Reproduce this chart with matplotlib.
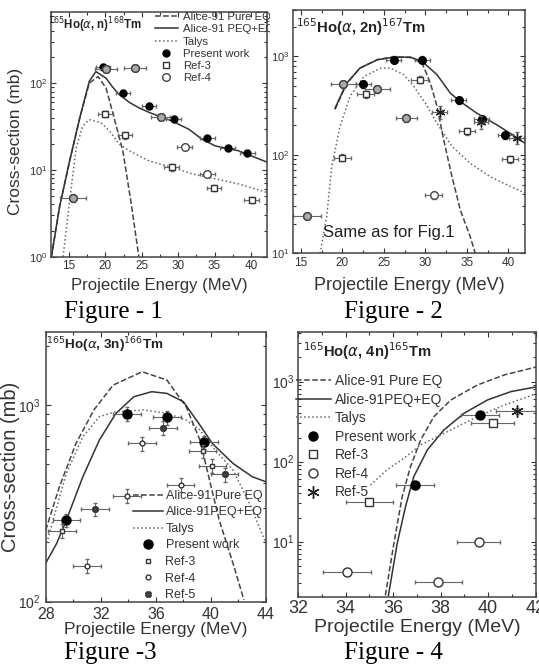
import matplotlib.pyplot as plt
from matplotlib.ticker import MultipleLocator, LogLocator, NullFormatter
from matplotlib.transforms import Bbox

plt.rcParams['font.family'] = ['Liberation Sans', 'DejaVu Sans']
plt.rcParams['mathtext.fontset'] = 'dejavusans'

# ---- Figure 1 : 165Ho(a,n)168Tm ----
f1_eq_e = [12.6, 13.7, 15.1, 16.5, 17.8, 19.0, 20.1, 21.2, 22.4, 23.5, 24.6]
f1_eq_s = [1.0, 3.7, 12.7, 40, 100, 119, 88, 40, 16.6, 4.4, 1.0]
f1_peq_e = [12.6, 13.7, 15.1, 16.5, 17.8, 18.7, 20.1, 21.0, 21.9, 23.3, 24.6, 26.0,
            29.2, 31.5, 33.3, 35.1, 38.3, 42.2]
f1_peq_s = [1.0, 3.7, 12.7, 40, 105, 136, 114, 90, 74, 60, 52, 46,
            36.5, 29.3, 22.5, 18.9, 16.6, 12.3]
f1_talys_e = [14.2, 15.1, 16.0, 16.9, 17.8, 19.4, 20.6, 21.9, 23.3, 26.0, 29.2, 31.9,
              35.1, 38.3, 42.2]
f1_talys_s = [1.0, 4.4, 18, 32, 38, 35, 28, 19.8, 16.6, 12.7, 10.7, 9.0, 7.9, 6.9, 5.5]
f1_pw_e = [19.7, 22.4, 26.0, 29.4, 34.0, 36.8, 39.5]
f1_pw_s = [155, 77, 54, 39, 23.5, 17.8, 15.6]
f1_r3_e = [20.0, 22.7, 29.1, 34.9, 40.1]
f1_r3_s = [44, 25, 10.7, 6.2, 4.5]
f1_r4_e = [15.55, 20.1, 24.1, 27.6, 30.9, 34.0]
f1_r4_s = [4.7, 146, 151, 40.5, 18.4, 9.0]
f1_r4_xerr = [1.8, 1.5, 1.5, 1.3, 1.0, 1.0]
f1_r4_shaded = [True, True, True, True, False, False]

# ---- Figure 2 : 165Ho(a,2n)167Tm ----
f2_eq_e = [19.1, 20.5, 22.1, 24.2, 26.2, 28.2, 29.6, 30.6, 31.4, 32.2, 33.2, 34.2, 35.4, 36.0]
f2_eq_s = [290, 530, 760, 930, 990, 975, 855, 535, 310, 142, 60, 27.6, 14.7, 10]
f2_peq_e = [19.1, 20.5, 22.1, 24.2, 26.2, 28.2, 29.6, 31.4, 33.0, 34.2, 36.2, 38.6, 40.2, 42.0]
f2_peq_s = [298, 535, 761, 925, 985, 985, 890, 652, 424, 348, 265, 202, 166, 131]
f2_talys_e = [17.3, 18.1, 18.7, 19.7, 20.9, 22.6, 24.6, 25.8, 27.4, 28.6, 30.0, 31.4, 33.2,
              35.4, 37.8, 40.2, 42.0]
f2_talys_s = [10, 23.6, 76, 194, 392, 627, 760, 760, 652, 495, 335, 209, 122, 82, 60, 48, 41]
f2_pw_e = [22.5, 26.2, 29.6, 34.0, 36.8, 39.6]
f2_pw_s = [520, 930, 930, 360, 230, 158]
f2_r3_e = [20.0, 22.8, 29.3, 35.0, 40.2]
f2_r3_s = [94, 414, 580, 175, 90]
f2_r4_e = [15.7, 20.1, 24.2, 27.7, 31.0]
f2_r4_s = [24, 523, 466, 236, 39]
f2_r4_xerr = [1.7, 1.5, 1.5, 1.3, 1.0]
f2_r4_shaded = [True, True, True, True, False]
f2_r5_e = [31.7, 36.7, 41.0]
f2_r5_s = [270, 215, 150]

# ---- Figure 3 : 165Ho(a,3n)166Tm ----
f3_eq_e = [28, 29.0, 30.2, 31.5, 32.9, 35.0, 36.8, 38.2, 39.2, 39.9, 40.6, 41.6, 42.4]
f3_eq_s = [231, 385, 638, 944, 1263, 1477, 1340, 980, 664, 415, 260, 157, 102]
f3_peq_e = [28, 28.8, 29.5, 30.7, 31.9, 33.1, 34.4, 35.7, 36.8, 38.0, 39.2, 40.1, 41.6, 43.0, 44]
f3_peq_s = [157, 198, 260, 432, 664, 907, 1102, 1169, 1146, 1040, 791, 638, 505, 432, 407]
f3_talys_e = [28, 28.6, 29.5, 30.7, 31.9, 33.1, 35.1, 36.8, 38.2, 39.2, 40.1, 41.6, 42.8, 44]
f3_talys_s = [190, 270, 450, 690, 873, 925, 944, 907, 839, 747, 614, 468, 316, 198]
f3_pw_e = [29.5, 33.9, 36.8, 39.5]
f3_pw_s = [260, 900, 865, 646]
f3_r3_e = [29.2, 39.4, 40.1]
f3_r3_s = [229, 583, 490]
f3_r4_e = [31.0, 33.9, 35.0, 37.8]
f3_r4_s = [152, 346, 638, 392]
f3_r5_e = [31.6, 36.5, 41.0]
f3_r5_s = [295, 767, 444]

# ---- Figure 4 : 165Ho(a,4n)165Tm ----
f4_eq_e = [35.67, 36.03, 36.38, 36.73, 37.16, 37.72, 38.43, 39.56, 40.69, 42.1]
f4_eq_s = [2.13, 9.5, 36.5, 86.6, 187, 365, 590, 909, 1211, 1540]
f4_peq_e = [35.8, 36.17, 36.52, 36.87, 37.44, 38.14, 38.99, 39.98, 40.97, 42.1]
f4_peq_s = [2.13, 9.5, 27.4, 65, 140, 249, 402, 590, 750, 866]
f4_talys_e = [35.04, 35.74, 36.45, 37.16, 37.86, 38.71, 39.56, 40.69, 42.1]
f4_talys_s = [51, 79, 110, 162, 205, 274, 365, 511, 714]
f4_pw_e = [36.9, 39.65]
f4_pw_s = [51, 383]
f4_r3_e = [35.0, 40.2]
f4_r3_s = [31.6, 301]
f4_r4_e = [34.05, 37.9, 39.6]
f4_r4_s = [4.2, 3.1, 9.8]
f4_r5_e = [41.2]
f4_r5_s = [430]

W, H = 539, 670
fig = plt.figure(figsize=(W / 100, H / 100), dpi=100)


def box(l, t, r, b):
    return [l / W, 1 - b / H, (r - l) / W, (b - t) / H]


def style(ax, xlim, ylim, major, minor, xfs, yfs):
    ax.set_yscale('log')
    ax.set_xlim(*xlim)
    ax.set_ylim(*ylim)
    ax.xaxis.set_major_locator(MultipleLocator(major))
    ax.xaxis.set_minor_locator(MultipleLocator(minor))
    ax.yaxis.set_minor_locator(LogLocator(subs=range(2, 10)))
    ax.yaxis.set_minor_formatter(NullFormatter())
    ax.tick_params(which='both', direction='in', top=True, right=True,
                   colors='#333333', width=0.8, pad=2.5)
    ax.tick_params(axis='x', labelsize=xfs)
    ax.tick_params(axis='y', labelsize=yfs)
    ax.tick_params(which='major', length=3.5)
    ax.tick_params(which='minor', length=2)
    for s in ax.spines.values():
        s.set_color('#444444')
        s.set_linewidth(1.1)


def points(ax, e, s, xerr, marker, ms, label, face='black', edge='black', rel=0.08):
    yerr = [v * rel for v in s]
    ax.errorbar(e, s, xerr=xerr, yerr=yerr, fmt='none', ecolor='#666666',
                elinewidth=0.8, capsize=1.5)
    ax.plot(e, s, ls='none', marker=marker, ms=ms, mfc=face, mec=edge, mew=1.0,
            label=label)


def curves(ax, eq, peq, talys, labels):
    ax.plot(eq[0], eq[1], '--', color='#444444', lw=1.1, label=labels[0])
    ax.plot(peq[0], peq[1], '-', color='#333333', lw=1.1, label=labels[1])
    ax.plot(talys[0], talys[1], ':', color='#666666', lw=1.1, label=labels[2])


def shaded(ax, e, s, flags, ms):
    idx = [i for i, v in enumerate(flags) if v]
    ax.plot([e[i] for i in idx], [s[i] for i in idx], 'o', ms=ms,
            mfc='#aaaaaa', mec='#444444', mew=1.0)


def grey_texts(leg):
    for t in leg.get_texts():
        t.set_color('#333333')


# ---------- panel 1 ----------
ax1 = fig.add_axes(box(50.7, 12, 267, 256.7))
style(ax1, (12.5, 42.2), (1, 660), 5, 2.5, 8.5, 8)
curves(ax1, (f1_eq_e, f1_eq_s), (f1_peq_e, f1_peq_s), (f1_talys_e, f1_talys_s),
       ['Alice-91 Pure EQ', 'Alice-91 PEQ+EQ', 'Talys'])
points(ax1, f1_pw_e, f1_pw_s, 1.0, 'o', 5, 'Present work')
points(ax1, f1_r3_e, f1_r3_s, 1.0, 's', 5, 'Ref-3', face='white', edge='#333333')
points(ax1, f1_r4_e, f1_r4_s, f1_r4_xerr, 'o', 5.5, 'Ref-4', face='white', edge='#444444')
shaded(ax1, f1_r4_e, f1_r4_s, f1_r4_shaded, 5.5)
ax1.set_xlabel('Projectile Energy (MeV)', fontsize=12, color='#333333', labelpad=4)
ax1.set_ylabel('Cross-section (mb)', fontsize=12.5, color='#333333')
ax1.yaxis.set_label_coords(-0.13, 0.47)
fig.text(48 / W, 1 - 25 / H, r'$^{165}$Ho($\alpha$, n)$^{168}$Tm', fontsize=8.3,
         fontweight='bold', color='#222222', va='center')
leg1 = ax1.legend(loc='upper left', bbox_to_anchor=(155 / W, 1 - 12 / H),
                  bbox_transform=fig.transFigure, frameon=False, fontsize=8.2,
                  handlelength=2.0, handletextpad=0.45, labelspacing=0.2, borderpad=0,
                  borderaxespad=0)
grey_texts(leg1)
clip = Bbox.from_extents(0, 0, 270, H)
for t in leg1.get_texts():
    t.set_clip_box(clip)
    t.set_clip_on(True)

# ---------- panel 2 ----------
ax2 = fig.add_axes(box(292.7, 9.5, 525, 253.3))
style(ax2, (14, 42), (10, 3000), 5, 2.5, 8.5, 8)
curves(ax2, (f2_eq_e, f2_eq_s), (f2_peq_e, f2_peq_s), (f2_talys_e, f2_talys_s),
       ['Alice-91 Pure EQ', 'Alice-91 PEQ+EQ', 'Talys'])
points(ax2, f2_pw_e, f2_pw_s, 0.9, 'o', 5.5, 'Present work')
points(ax2, f2_r3_e, f2_r3_s, 1.0, 's', 5, 'Ref-3', face='white', edge='#333333')
points(ax2, f2_r4_e, f2_r4_s, f2_r4_xerr, 'o', 5.5, 'Ref-4', face='white', edge='#444444')
shaded(ax2, f2_r4_e, f2_r4_s, f2_r4_shaded, 5.5)
points(ax2, f2_r5_e, f2_r5_s, 0.9, (6, 2, 0), 7, 'Ref-5', edge='#222222', rel=0.15)
ax2.set_xlabel('Projectile Energy (MeV)', fontsize=13, color='#333333', labelpad=6)
fig.text(296 / W, 1 - 27 / H, r'$^{165}$Ho($\alpha$, 2n)$^{167}$Tm', fontsize=10.7,
         fontweight='bold', color='#222222', va='center')
fig.text(323 / W, 1 - 233 / H, 'Same as for Fig.1', fontsize=12, color='#222222',
         va='center')

# ---------- panel 3 ----------
ax3 = fig.add_axes(box(45.7, 331.7, 266, 601.7))
style(ax3, (28, 44), (100, 2360), 4, 2, 11.5, 10)
ax3.tick_params(axis='x', pad=4)
ax3.tick_params(axis='y', pad=3.5)
curves(ax3, (f3_eq_e, f3_eq_s), (f3_peq_e, f3_peq_s), (f3_talys_e, f3_talys_s),
       ['Alice-91 Pure EQ', 'Alice-91PEQ+EQ', 'Talys'])
points(ax3, f3_pw_e, f3_pw_s, 1.0, 'o', 6.5, 'Present work')
points(ax3, f3_r3_e, f3_r3_s, 1.0, 's', 3.5, 'Ref-3', face='white', edge='#333333')
points(ax3, f3_r4_e, f3_r4_s, 1.0, 'o', 3.5, 'Ref-4', face='white', edge='#333333')
points(ax3, f3_r5_e, f3_r5_s, 1.0, 'X', 4, 'Ref-5', face='#555555', edge='#333333')
ax3.set_xlabel('Projectile Energy (MeV)', fontsize=12.5, color='#333333', labelpad=0)
ax3.set_ylabel('Cross-section (mb)', fontsize=14.5, color='#333333')
ax3.yaxis.set_label_coords(-0.118, 0.5)
fig.text(46 / W, 1 - 345 / H, r'$^{165}$Ho($\alpha$, 3n)$^{166}$Tm', fontsize=9.7,
         fontweight='bold', color='#222222', va='center')
leg3 = ax3.legend(loc='upper left', bbox_to_anchor=(133 / W, 1 - 490 / H),
                  bbox_transform=fig.transFigure, frameon=False, fontsize=9,
                  handlelength=2.4, handletextpad=0.2, labelspacing=0.36, borderpad=0,
                  borderaxespad=0)
grey_texts(leg3)

# ---------- panel 4 ----------
ax4 = fig.add_axes(box(298.3, 331.7, 535.5, 596.7))
style(ax4, (32, 42), (2.05, 4200), 2, 1, 13, 10)
curves(ax4, (f4_eq_e, f4_eq_s), (f4_peq_e, f4_peq_s), (f4_talys_e, f4_talys_s),
       ['Alice-91 Pure EQ', 'Alice-91PEQ+EQ', 'Talys'])
points(ax4, f4_pw_e, f4_pw_s, 0.8, 'o', 6.5, 'Present work')
points(ax4, f4_r3_e, f4_r3_s, [1.0, 0.9], 's', 5.5, 'Ref-3', face='white', edge='#333333')
points(ax4, f4_r4_e, f4_r4_s, [1.0, 1.0, 0.9], 'o', 6.5, 'Ref-4', face='white', edge='#333333')
points(ax4, f4_r5_e, f4_r5_s, 0.85, (6, 2, 0), 9, 'Ref-5', edge='#222222')
ax4.set_xlabel('Projectile Energy (MeV)', fontsize=14, color='#333333', labelpad=1)
fig.text(303 / W, 1 - 351 / H, r'$^{165}$Ho($\alpha$, 4n)$^{165}$Tm', fontsize=10.6,
         fontweight='bold', color='#222222', va='center')
leg4 = ax4.legend(loc='upper left', bbox_to_anchor=(296 / W, 1 - 374 / H),
                  bbox_transform=fig.transFigure, frameon=False, fontsize=10,
                  handlelength=2.5, handletextpad=0.3, labelspacing=0.33, borderpad=0,
                  borderaxespad=0)
grey_texts(leg4)

# figure captions
for x, y, s in [(113, 312, 'Figure - 1'), (393, 312, 'Figure - 2'),
                (110, 653, 'Figure -3'), (393, 653, 'Figure - 4')]:
    fig.text(x / W, 1 - y / H, s, family='Liberation Serif', fontsize=18,
             ha='center', va='center', color='black')

fig.savefig('out.png', dpi=100)
